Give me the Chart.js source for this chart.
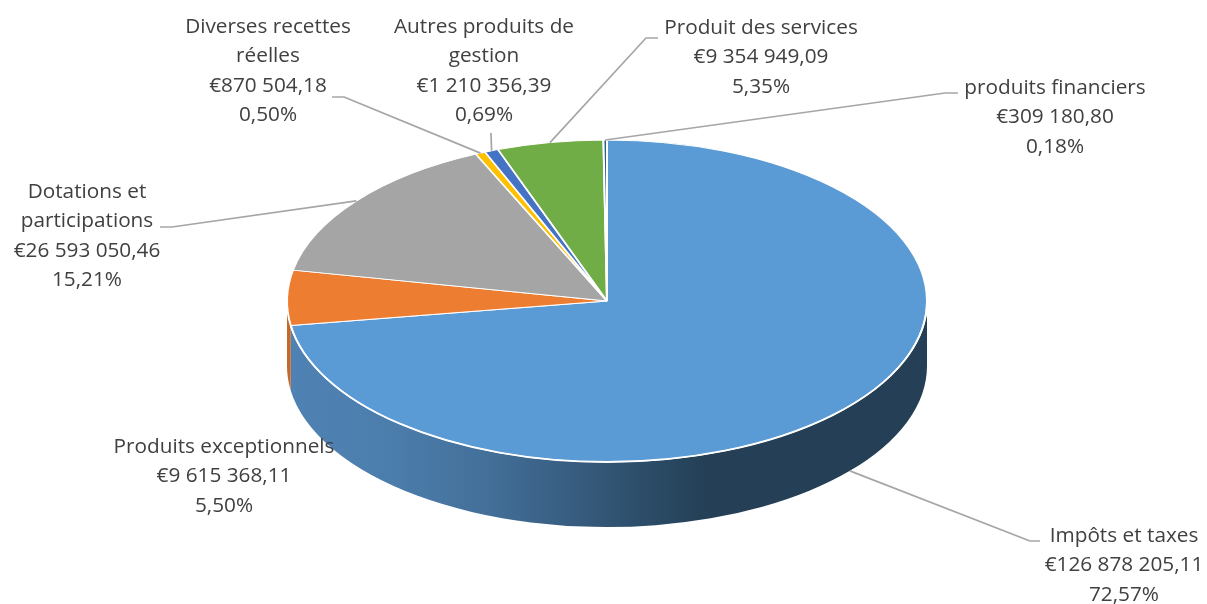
<!DOCTYPE html>
<html><head><meta charset="utf-8">
<style>html,body{margin:0;padding:0;background:#fff;overflow:hidden}canvas{display:block}</style>
<script src="https://cdn.jsdelivr.net/npm/chart.js@4"></script>
</head><body><canvas id="c" width="1207" height="604"></canvas>
<script>
const categories = ["Impôts et taxes","Produits exceptionnels","Dotations et\nparticipations","Diverses recettes\nréelles","Autres produits de\ngestion","Produit des services","produits financiers"];
const amounts = [126878205.11,9615368.11,26593050.46,870504.18,1210356.39,9354949.09,309180.80];
const colors = ["#5B9BD5","#ED7D31","#A5A5A5","#FFC000","#4472C4","#70AD47","#255E91"];
// label layout: centre x, y of the first text row, optional leader elbow points
const labelX = [1124,224,87,268,484,761,1055];
const labelY = [536,447,192,27,27,28,88];
const leaders = [[[1040,541],[1030,541]],null,[[160,227],[172,227]],[[332,97],[344,97]],[[491,133]],[[658,38],[646,38]],[[958,93],[945,93]]];
const squash = 161/320, depth = 65, rowH = 29.4;

const total = amounts.reduce((a,b)=>a+b,0);
function money(v){
  const [i,d] = v.toFixed(2).split('.');
  return '€'+i.replace(/\B(?=(\d{3})+$)/g,' ')+','+d;
}
function pct(v){ return (v/total*100).toFixed(2).replace('.',',')+'%'; }

const pie3d = {
  id:'pie3d',
  beforeDatasetsDraw(chart){
    const ctx = chart.ctx, arcs = chart.getDatasetMeta(0).data;
    const cx = arcs[0].x, cy = arcs[0].y, rx = arcs[0].outerRadius, ry = rx*squash;
    arcs.forEach((a,i)=>{
      const s = Math.max(a.startAngle,0), e = Math.min(a.endAngle,Math.PI);
      if (e<=s) return;
      const g = ctx.createLinearGradient(cx-rx,0,cx+rx,0);
      if (i===0){
        g.addColorStop(0,'#4F82B4'); g.addColorStop(0.15,'#4C7EAD'); g.addColorStop(0.3,'#44719B');
        g.addColorStop(0.45,'#375C7F'); g.addColorStop(0.6,'#284760'); g.addColorStop(0.66,'#243F56'); g.addColorStop(1,'#243F56');
      } else { g.addColorStop(0,'#C5682A'); g.addColorStop(1,'#C5682A'); }
      ctx.beginPath();
      ctx.ellipse(cx,cy,rx,ry,0,s,e);
      ctx.ellipse(cx,cy+depth,rx,ry,0,e,s,true);
      ctx.closePath();
      ctx.fillStyle = g; ctx.fill();
    });
    ctx.save();
    ctx.translate(cx,cy); ctx.scale(1,squash); ctx.translate(-cx,-cy);
  },
  afterDatasetsDraw(chart){
    const ctx = chart.ctx; ctx.restore();
    const arcs = chart.getDatasetMeta(0).data;
    const cx = arcs[0].x, cy = arcs[0].y, rx = arcs[0].outerRadius, ry = rx*squash;
    ctx.beginPath();
    ctx.ellipse(cx,cy,rx,ry,0,arcs[0].startAngle<0?0:arcs[0].startAngle,arcs[0].endAngle);
    ctx.strokeStyle='#fff'; ctx.lineWidth=1.8; ctx.stroke();
    // leaders
    ctx.strokeStyle='#A6A6A6'; ctx.lineWidth=1.7; ctx.lineJoin='round';
    arcs.forEach((a,i)=>{
      if(!leaders[i]) return;
      const m = (a.startAngle+a.endAngle)/2;
      let ex = cx+rx*Math.cos(m), ey = cy+ry*Math.sin(m);
      if (Math.sin(m)>0 && i===0) ey += depth;
      ctx.beginPath();
      leaders[i].forEach((p,k)=> k?ctx.lineTo(p[0],p[1]):ctx.moveTo(p[0],p[1]));
      ctx.lineTo(ex,ey); ctx.stroke();
    });
    // labels
    ctx.fillStyle='#404040'; ctx.font='20.75px "Open Sans"'; ctx.textAlign='center'; ctx.textBaseline='middle';
    categories.forEach((c,i)=>{
      const rows = c.split('\n').concat([money(amounts[i]),pct(amounts[i])]);
      rows.forEach((t,k)=>ctx.fillText(t,labelX[i],labelY[i]+k*rowH));
    });
  }
};

new Chart(document.getElementById('c'),{
  type:'pie',
  data:{labels:categories,datasets:[{data:amounts,backgroundColor:colors,borderColor:'#fff',borderWidth:2}]},
  options:{responsive:false,devicePixelRatio:1,animation:false,radius:320,
    layout:{padding:{left:7,top:0,bottom:2,right:0}},
    plugins:{legend:{display:false},tooltip:{enabled:false},title:{display:false}}},
  plugins:[pie3d]
});
</script></body></html>
